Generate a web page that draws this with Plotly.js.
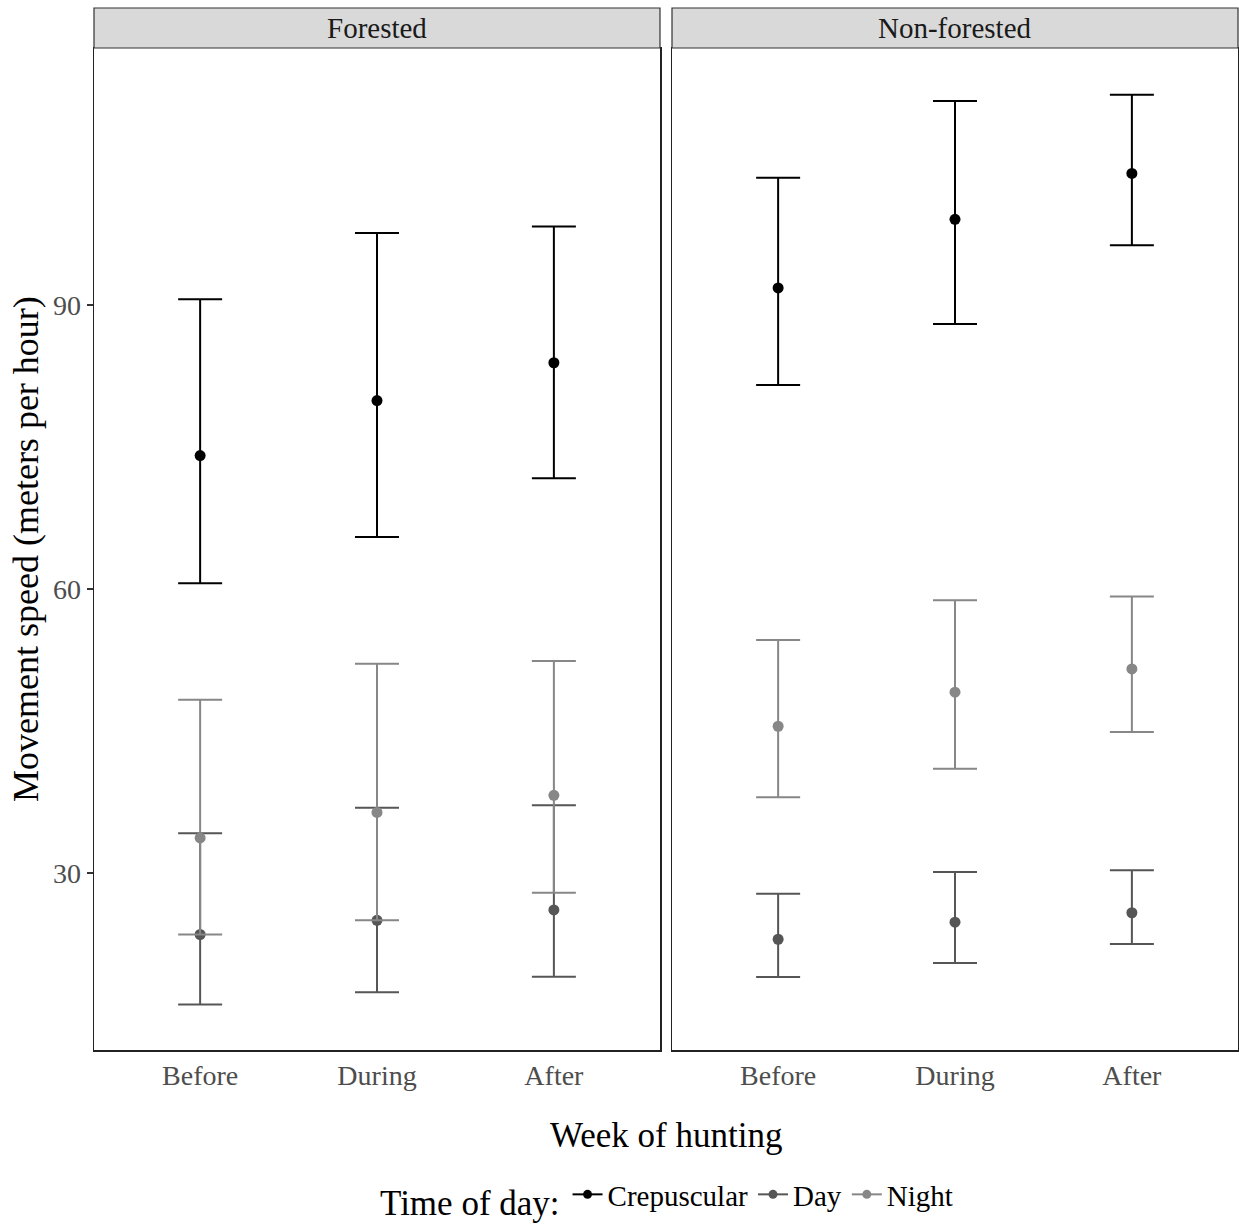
<!DOCTYPE html>
<html>
<head>
<meta charset="utf-8">
<script src="https://cdn.plot.ly/plotly-3.0.1.min.js"></script>
<style>html,body{margin:0;padding:0;background:#fff;}#chart{width:1239px;height:1226px;}</style>
</head>
<body>
<div id="chart"></div>
<script>
// ---- data ----
const weeks = ["Before", "During", "After"];
const panels = ["Forested", "Non-forested"];
const groups = ["Crepuscular", "Day", "Night"];

// Forested
const forCrepMean  = [74.1, 79.9, 83.9];
const forCrepLower = [60.6, 65.5, 71.7];
const forCrepUpper = [90.6, 97.6, 98.3];
const forDayMean   = [23.5, 25.0, 26.1];
const forDayLower  = [16.1, 17.4, 19.05];
const forDayUpper  = [34.2, 36.9, 37.15];
const forNightMean  = [33.7, 36.4, 38.2];
const forNightLower = [23.5, 25.0, 27.9];
const forNightUpper = [48.3, 52.1, 52.4];

// Non-forested
const nonCrepMean  = [91.8, 99.05, 103.9];
const nonCrepLower = [81.55, 88.0, 96.3];
const nonCrepUpper = [103.45, 111.55, 112.2];
const nonDayMean   = [23.0, 24.8, 25.8];
const nonDayLower  = [19.0, 20.5, 22.5];
const nonDayUpper  = [27.8, 30.1, 30.3];
const nonNightMean  = [45.5, 49.1, 51.55];
const nonNightLower = [38.0, 41.0, 44.9];
const nonNightUpper = [54.6, 58.8, 59.2];

const yTicks = [30, 60, 90];
const colors = {Crepuscular: "#000000", Day: "#565656", Night: "#878787"};

const series = [
  {panel: 0, g: "Crepuscular", m: forCrepMean, lo: forCrepLower, hi: forCrepUpper},
  {panel: 0, g: "Day", m: forDayMean, lo: forDayLower, hi: forDayUpper},
  {panel: 0, g: "Night", m: forNightMean, lo: forNightLower, hi: forNightUpper},
  {panel: 1, g: "Crepuscular", m: nonCrepMean, lo: nonCrepLower, hi: nonCrepUpper},
  {panel: 1, g: "Day", m: nonDayMean, lo: nonDayLower, hi: nonDayUpper},
  {panel: 1, g: "Night", m: nonNightMean, lo: nonNightLower, hi: nonNightUpper}
];

const font = "Liberation Serif, Times New Roman, serif";
const traces = [];
series.forEach(s => {
  traces.push({
    type: "scatter", mode: "markers",
    x: weeks, y: s.m,
    xaxis: s.panel === 0 ? "x" : "x2",
    yaxis: s.panel === 0 ? "y" : "y2",
    marker: {color: colors[s.g], size: 11},
    error_y: {
      type: "data", symmetric: false,
      array: s.hi.map((v, i) => v - s.m[i]),
      arrayminus: s.m.map((v, i) => v - s.lo[i]),
      color: colors[s.g], thickness: 2, width: 22
    },
    name: s.g, legendgroup: s.g, showlegend: false, hoverinfo: "x+y"
  });
});
// legend entries
groups.forEach(g => {
  traces.push({
    type: "scatter", mode: "lines+markers",
    x: [null], y: [null], xaxis: "x", yaxis: "y",
    line: {color: colors[g], width: 2},
    marker: {color: colors[g], size: 9},
    name: g, legendgroup: g, showlegend: true
  });
});

const H = 1002; // plot area height
const stripH = 40 / H;
const xd1 = [0, 566 / 1144];
const xd2 = [578 / 1144, 1];
const yRange = [11.3, 117.15];

const axisCommon = {
  showgrid: false, zeroline: false, showline: true, mirror: true,
  linecolor: "#222222", linewidth: 1.5
};

const layout = {
  width: 1239, height: 1226,
  margin: {l: 94, r: 1, t: 48, b: 176},
  paper_bgcolor: "#ffffff", plot_bgcolor: "#ffffff",
  font: {family: font, color: "#000"},
  showlegend: true,
  xaxis: Object.assign({}, axisCommon, {
    domain: xd1, type: "category", categoryorder: "array", categoryarray: weeks,
    range: [-0.6, 2.6], ticks: "", tickfont: {family: font, size: 28, color: "#4d4d4d"}
  }),
  xaxis2: Object.assign({}, axisCommon, {
    domain: xd2, type: "category", categoryorder: "array", categoryarray: weeks,
    range: [-0.6, 2.6], ticks: "", anchor: "y2", tickfont: {family: font, size: 28, color: "#4d4d4d"}
  }),
  yaxis: Object.assign({}, axisCommon, {
    range: yRange, tickvals: yTicks, ticktext: yTicks.map(String),
    ticks: "outside", ticklen: 6, tickwidth: 1.5, tickcolor: "#333",
    tickfont: {family: font, size: 28, color: "#4d4d4d"}
  }),
  yaxis2: Object.assign({}, axisCommon, {
    range: yRange, anchor: "x2", tickvals: yTicks, showticklabels: false, ticks: ""
  }),
  legend: {
    orientation: "h", xref: "container", yref: "container",
    x: 668 / 1239, xanchor: "center", y: (1226 - 1197) / 1226, yanchor: "middle",
    title: {text: "Time of day:", side: "left", font: {family: font, size: 35, color: "#000"}},
    font: {family: font, size: 29, color: "#000"},
    itemwidth: 30, tracegroupgap: 0, bgcolor: "rgba(0,0,0,0)"
  },
  shapes: [
    {type: "rect", xref: "paper", yref: "paper", x0: xd1[0], x1: xd1[1], y0: 1, y1: 1 + stripH,
     fillcolor: "#d9d9d9", line: {color: "#333333", width: 1.2}},
    {type: "rect", xref: "paper", yref: "paper", x0: xd2[0], x1: xd2[1], y0: 1, y1: 1 + stripH,
     fillcolor: "#d9d9d9", line: {color: "#333333", width: 1.2}}
  ],
  annotations: [
    {text: panels[0], xref: "paper", yref: "paper", x: (xd1[0] + xd1[1]) / 2, y: 1 + stripH / 2,
     xanchor: "center", yanchor: "middle", showarrow: false, font: {family: font, size: 29, color: "#1a1a1a"}},
    {text: panels[1], xref: "paper", yref: "paper", x: (xd2[0] + xd2[1]) / 2, y: 1 + stripH / 2,
     xanchor: "center", yanchor: "middle", showarrow: false, font: {family: font, size: 29, color: "#1a1a1a"}},
    {text: "Week of hunting", xref: "paper", yref: "paper", x: 0.5, y: -85 / H,
     xanchor: "center", yanchor: "middle", showarrow: false, font: {family: font, size: 35, color: "#000"}},
    {text: "Movement speed (meters per hour)", xref: "paper", yref: "paper", x: -68 / 1144, y: (1050 - 549) / H,
     xanchor: "center", yanchor: "middle", textangle: -90, showarrow: false, font: {family: font, size: 36, color: "#000"}}
  ]
};

Plotly.newPlot("chart", traces, layout, {displayModeBar: false, staticPlot: true});
</script>
</body>
</html>
